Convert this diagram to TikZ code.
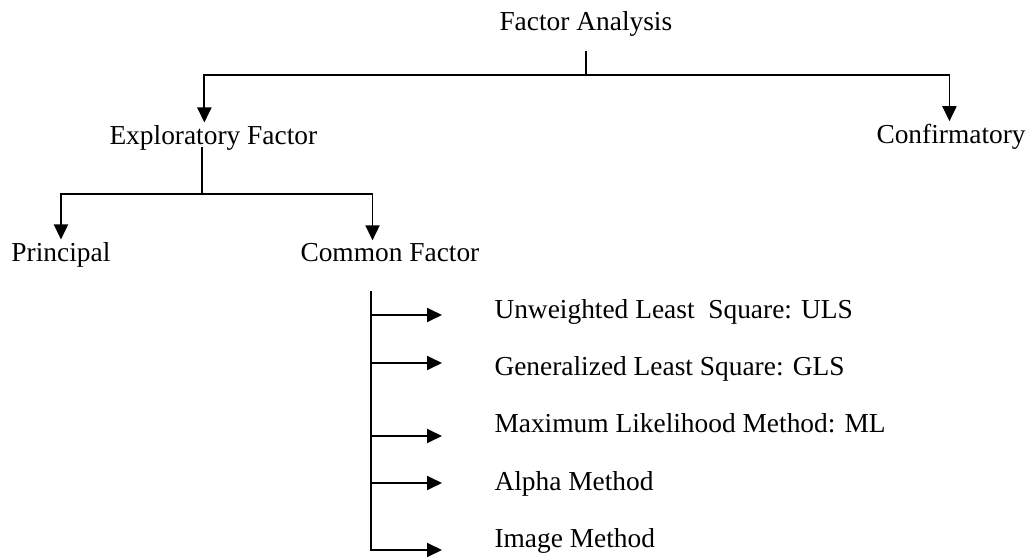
\documentclass[tikz,border=0pt]{standalone}
\usepackage{fontspec}
\setmainfont{Liberation Serif}
\usetikzlibrary{arrows.meta}
\begin{document}
\begin{tikzpicture}[x=1pt,y=-1pt,
  lbl/.style={inner sep=0pt,outer sep=2.5pt,anchor=base west,font=\fontsize{27.4}{33}\selectfont},
  ln/.style={line width=1.9pt,line cap=butt},
  arr/.style={ln,-{Triangle[length=15pt,width=14pt]}}]
\path[use as bounding box] (0,0) rectangle (1029,557);
% nodes
\node[lbl] (fa) at (497,30) {Factor Analysis};
\node[lbl] (exp) at (107,144) {Exploratory Factor};
\node[lbl] (conf) at (874,143) {Confirmatory};
\node[lbl] (prin) at (9,261) {Principal};
\node[lbl] (com) at (298,261) {Common Factor};
\node[lbl] (m1) at (492,318) {Unweighted Least\ \ Square: ULS};
\node[lbl] (m2) at (492,375) {Generalized Least Square: GLS};
\node[lbl] (m3) at (492,432) {Maximum Likelihood Method: ML};
\node[lbl] (m4) at (492,490) {Alpha Method};
\node[lbl] (m5) at (492,547) {Image Method};
% junctions
\coordinate (j0) at (586,75);
\coordinate (j1) at (202,194);
\coordinate (b0) at (371,291);
\coordinate (b1) at (371,551);
\coordinate (a1) at (442,315);
\coordinate (a2) at (442,363);
\coordinate (a3) at (442,436);
\coordinate (a4) at (442,483);
\coordinate (a5) at (442,550);
% connectors
\draw[ln] ([yshift=-13pt]fa.south -| j0) -- (j0);
\draw[arr] (j0) -| ([xshift=-9pt]exp.north);
\draw[arr] (j0) -| ([xshift=-1.6pt]conf.north);
\draw[ln] ([yshift=-3pt]exp.base -| j1) -- (j1);
\draw[arr] (j1) -| (prin.north);
\draw[arr] (j1) -| ([xshift=-17.4pt]com.north);
\draw[ln] (b0) -- (b1);
\foreach \a in {a1,a2,a3,a4,a5}{\draw[arr] (\a -| b0) -- (\a);}
\end{tikzpicture}
\end{document}
